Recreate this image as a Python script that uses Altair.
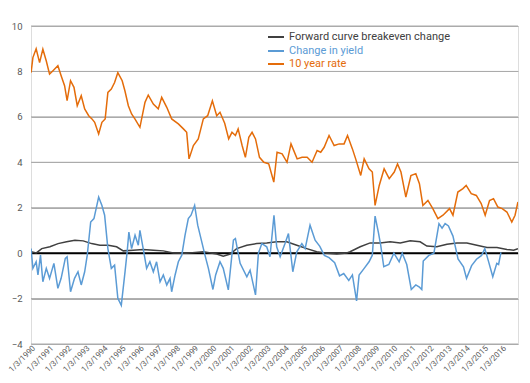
import altair as alt
import pandas as pd

# ---- data (decimal year, value) ----
rate_t = [1990.01, 1990.11, 1990.29, 1990.48, 1990.66, 1990.85, 1991.03, 1991.22, 1991.49, 1991.67,
          1991.86, 1992.0, 1992.19, 1992.38, 1992.56, 1992.78, 1992.97, 1993.19, 1993.37, 1993.52,
          1993.74, 1993.92, 1994.1, 1994.25, 1994.44, 1994.62, 1994.8, 1995.04, 1995.19, 1995.38,
          1995.56, 1995.75, 1996.02, 1996.3, 1996.48, 1996.76, 1997.03, 1997.22, 1997.5, 1997.77,
          1998.14, 1998.42, 1998.6, 1998.73, 1998.97, 1999.24, 1999.52, 1999.76, 2000.02, 2000.26,
          2000.44, 2000.7, 2000.92, 2001.1, 2001.29, 2001.44, 2001.66, 2001.84, 2002.03, 2002.21,
          2002.4, 2002.62, 2002.86, 2003.13, 2003.41, 2003.59, 2003.87, 2004.14, 2004.36, 2004.7,
          2004.97, 2005.25, 2005.52, 2005.8, 2006.0, 2006.19, 2006.46, 2006.74, 2007.02, 2007.29,
          2007.48, 2007.75, 2007.93, 2008.21, 2008.4, 2008.67, 2008.85, 2009.0, 2009.23, 2009.5,
          2009.78, 2010.06, 2010.24, 2010.43, 2010.7, 2010.98, 2011.25, 2011.45, 2011.64, 2011.92,
          2012.19, 2012.47, 2012.75, 2013.11, 2013.3, 2013.57, 2013.85, 2014.03, 2014.31, 2014.59,
          2014.86, 2015.08, 2015.32, 2015.54, 2015.78, 2016.02, 2016.28, 2016.55, 2016.73, 2016.89]
rate_v = [7.95, 8.61, 9.0, 8.39, 8.98, 8.46, 7.88, 8.03, 8.25, 7.81,
          7.37, 6.71, 7.59, 7.3, 6.49, 6.93, 6.35, 6.05, 5.91, 5.76,
          5.25, 5.76, 5.91, 7.08, 7.22, 7.51, 7.95, 7.59, 7.15, 6.49,
          6.13, 5.9, 5.54, 6.64, 6.96, 6.56, 6.35, 6.86, 6.42, 5.91,
          5.69, 5.47, 5.32, 4.15, 4.74, 5.03, 5.91, 6.05, 6.71, 6.05,
          6.2, 5.72, 5.03, 5.32, 5.18, 5.47, 4.74, 4.22, 5.1, 5.32,
          5.03, 4.22, 4.0, 3.93, 3.13, 4.44, 4.37, 4.0, 4.81, 4.15,
          4.22, 4.22, 4.0, 4.52, 4.44, 4.66, 5.18, 4.74, 4.81, 4.81,
          5.18, 4.59, 4.15, 3.42, 4.15, 3.71, 3.57, 2.1, 2.98, 3.71,
          3.28, 3.57, 3.93, 3.57, 2.47, 3.42, 3.5, 3.06, 2.1, 2.32,
          1.96, 1.52, 1.67, 1.96, 1.67, 2.69, 2.84, 2.98, 2.62, 2.54,
          2.18, 1.67, 2.32, 2.4, 2.03, 1.96, 1.81, 1.37, 1.67, 2.25]

yield_t = [1990.01, 1990.11, 1990.29, 1990.39, 1990.53, 1990.66, 1990.85, 1991.03, 1991.27, 1991.49,
           1991.67, 1991.9, 1992.0, 1992.19, 1992.41, 1992.6, 1992.78, 1992.97, 1993.11, 1993.3,
           1993.48, 1993.74, 1993.92, 1994.07, 1994.25, 1994.44, 1994.62, 1994.8, 1994.99, 1995.2,
           1995.32, 1995.41, 1995.56, 1995.75, 1995.93, 1996.02, 1996.2, 1996.39, 1996.57, 1996.76,
           1996.94, 1997.13, 1997.31, 1997.5, 1997.68, 1997.77, 1997.96, 1998.14, 1998.33, 1998.51,
           1998.69, 1998.84, 1999.04, 1999.21, 1999.39, 1999.61, 1999.8, 2000.05, 2000.2, 2000.44,
           2000.62, 2000.9, 2001.18, 2001.29, 2001.55, 2001.92, 2002.1, 2002.4, 2002.56, 2002.75,
           2003.02, 2003.2, 2003.42, 2003.57, 2003.76, 2004.03, 2004.22, 2004.46, 2004.68, 2004.96,
           2005.14, 2005.41, 2005.69, 2005.95, 2006.2, 2006.46, 2006.77, 2007.04, 2007.27, 2007.55,
           2007.75, 2007.98, 2008.12, 2008.4, 2008.67, 2008.85, 2009.0, 2009.18, 2009.31, 2009.48,
           2009.76, 2010.04, 2010.33, 2010.5, 2010.75, 2011.0, 2011.25, 2011.45, 2011.58, 2011.66,
           2011.97, 2012.25, 2012.53, 2012.7, 2012.87, 2013.05, 2013.3, 2013.58, 2013.88, 2014.05,
           2014.33, 2014.6, 2014.88, 2015.06, 2015.26, 2015.5, 2015.72, 2015.82, 2015.95]
yield_v = [0.2, -0.67, -0.38, -0.96, -0.09, -1.26, -0.67, -1.11, -0.45, -1.55,
           -1.11, -0.23, -0.16, -1.7, -1.11, -0.82, -1.4, -0.82, -0.09, 1.37,
           1.52, 2.47, 2.1, 1.67, 0.2, -0.67, -0.53, -1.99, -2.3, -0.8,
           0.1, 0.93, 0.2, 0.79, 0.35, 1.0, 0.2, -0.67, -0.38, -0.82,
           -0.38, -1.26, -0.96, -1.4, -1.11, -1.7, -0.96, -0.38, -0.09, 0.79,
           1.52, 1.67, 2.1, 1.23, 0.64, -0.09, -0.67, -1.6, -0.96, -0.38,
           -0.67, -1.62, 0.57, 0.64, -0.45, -1.04, -0.75, -1.84, 0.0, 0.42,
           0.28, -0.16, 1.67, 0.28, -0.16, 0.42, 0.86, -0.82, 0.06, 0.42,
           0.2, 1.23, 0.57, 0.3, -0.1, -0.2, -0.42, -1.0, -0.9, -1.2,
           -0.96, -2.1, -0.96, -0.67, -0.38, -0.09, 1.63, 0.93, 0.35, -0.6,
           -0.5, 0.0, -0.38, 0.0, -0.5, -1.6, -1.4, -1.5, -1.6, -0.35,
           -0.1, 0.0, 1.3, 1.1, 1.3, 1.2, 0.75, -0.25, -0.6, -1.11,
           -0.55, -0.27, -0.1, 0.2, -0.35, -1.04, -0.45, -0.5, 0.03]

fwd_t = [1990.01, 1990.3, 1990.6, 1991.05, 1991.5, 1991.97, 1992.43, 1992.89, 1993.35, 1993.81,
         1994.27, 1994.73, 1995.1, 1995.65, 1996.2, 1996.76, 1997.31, 1997.86, 1998.6, 1999.52,
         2000.26, 2000.62, 2001.0, 2001.36, 2001.92, 2002.47, 2003.02, 2003.57, 2004.13, 2004.68,
         2005.23, 2005.78, 2006.34, 2006.89, 2007.44, 2007.62, 2008.18, 2008.73, 2009.28, 2009.83,
         2010.39, 2010.94, 2011.49, 2011.86, 2012.41, 2012.97, 2013.52, 2014.07, 2014.62, 2015.18,
         2015.73, 2016.28, 2016.65, 2016.89]
fwd_v = [0.06, 0.01, 0.2, 0.28, 0.42, 0.5, 0.57, 0.54, 0.42, 0.35,
         0.35, 0.28, 0.1, 0.13, 0.16, 0.13, 0.1, 0.01, 0.0, 0.06,
         -0.04, -0.13, -0.04, 0.2, 0.35, 0.42, 0.45, 0.5, 0.5, 0.35,
         0.2, 0.06, 0.0, -0.04, 0.01, 0.06, 0.28, 0.45, 0.45, 0.5,
         0.45, 0.54, 0.5, 0.31, 0.28, 0.39, 0.45, 0.45, 0.35, 0.25,
         0.25, 0.16, 0.13, 0.2]

series_names = ["Forward curve breakeven change", "Change in yield", "10 year rate"]
series_colors = ["#404040", "#5B9BD5", "#E46C0A"]
y_ticks = [-4, -2, 0, 2, 4, 6, 8, 10]
x_tick_years = list(range(1990, 2017))


def to_date(y):
    yr = int(y)
    return pd.Timestamp(yr, 1, 1) + pd.Timedelta(days=(y - yr) * 365.25)


def frame(ts, vs, name):
    return pd.DataFrame({"date": [to_date(t) for t in ts], "value": vs, "series": name})


df = pd.concat([
    frame(fwd_t, fwd_v, series_names[0]),
    frame(yield_t, yield_v, series_names[1]),
    frame(rate_t, rate_v, series_names[2]),
])
df["date"] = df["date"].dt.strftime("%Y-%m-%dT%H:%M:%S")

tick_dates = [alt.DateTime(year=y, month=1, date=3) for y in x_tick_years]
x_dom = [alt.DateTime(year=1990, month=1, date=3), alt.DateTime(year=2016, month=11, date=22)]

FONT = "Roboto"
GRID = "#ABABAB"

x_enc = alt.X("date:T", scale=alt.Scale(domain=x_dom),
              axis=alt.Axis(values=tick_dates, format="%-m/%-d/%Y", labelAngle=-45,
                            labelAlign="right", labelBaseline="top", labelFontSize=8,
                            labelColor="#595959", labelFont=FONT, domain=False, ticks=False,
                            grid=False, labelPadding=0, title=None, labelOverlap=False,
                            labelFlush=False, labelBound=False))
y_enc = alt.Y("value:Q", scale=alt.Scale(domain=[-4, 10], nice=False),
              axis=alt.Axis(values=y_ticks, labelFontSize=9.5, labelColor="#595959",
                            labelFont=FONT, domain=False, ticks=False, grid=True,
                            gridColor=GRID, gridWidth=1, title=None, labelPadding=9))

grid_df = pd.DataFrame({"tick": y_ticks})
grid = alt.Chart(grid_df).mark_rule(color=GRID, strokeWidth=1).encode(
    y=alt.Y("tick:Q"))

zero = alt.Chart(pd.DataFrame({"value": [0]})).mark_rule(color="black", strokeWidth=2).encode(
    y=alt.Y("value:Q"))

lines = alt.Chart(df).mark_line(strokeWidth=1.5, clip=True).encode(
    x=x_enc, y=y_enc,
    color=alt.Color("series:N", scale=alt.Scale(domain=series_names, range=series_colors), legend=None),
    order=alt.Order("date:T"),
    detail="series:N",
)

layers = [grid, zero, lines]
leg_rows = [37, 51, 64]
for name, col, yy in zip(series_names, series_colors, leg_rows):
    ld = pd.DataFrame({"label": [name]})
    layers.append(alt.Chart(ld).mark_rule(color=col, strokeWidth=2).encode(
        x=alt.value(237), x2=alt.value(253), y=alt.value(yy - 26)))
    layers.append(alt.Chart(ld).mark_text(align="left", baseline="middle", fontSize=11,
                                          font=FONT, color=col).encode(
        x=alt.value(258), y=alt.value(yy - 26), text="label:N"))

chart = alt.layer(*layers).properties(
    width=487, height=318,
    autosize=alt.AutoSizeParams(type="none"),
    padding={"left": 23, "top": 18, "right": 4, "bottom": 31},
).configure_view(stroke=None).configure(background="white")

chart.save("out.html", embed_options={"renderer": "svg", "actions": False})
